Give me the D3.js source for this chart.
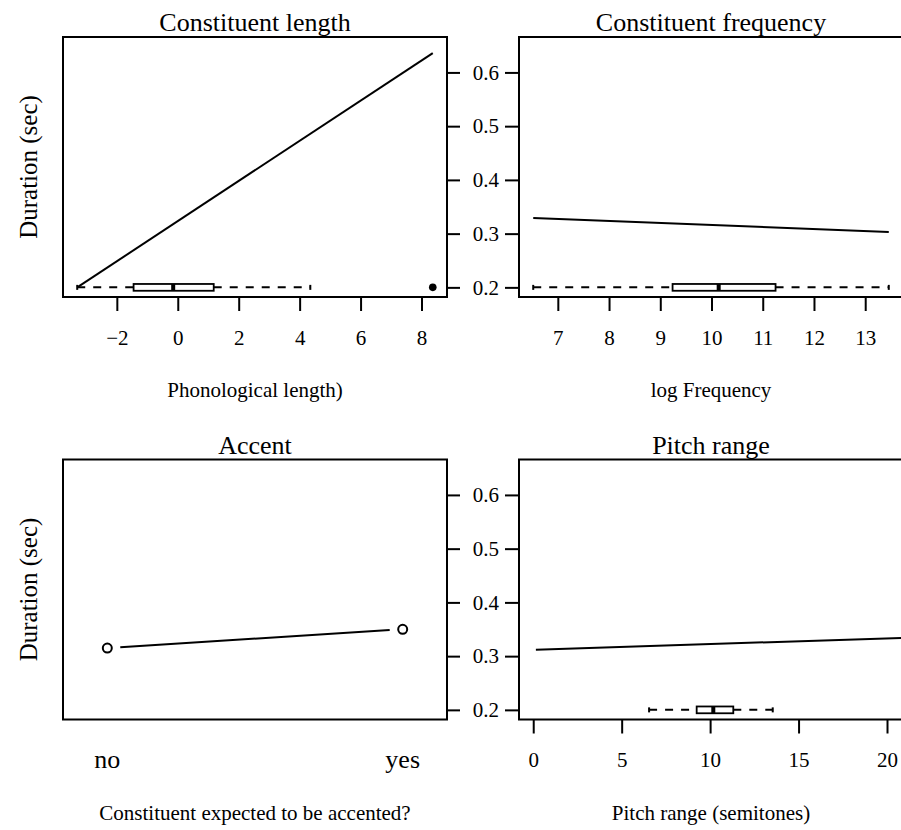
<!DOCTYPE html>
<html>
<head>
<meta charset="utf-8">
<script src="https://cdn.jsdelivr.net/npm/d3@7"></script>
<style>
  body { margin: 0; background: #fff; }
  svg, svg text { font-family: 'Liberation Serif', 'Times New Roman', serif; }
  svg { display: block; }
</style>
</head>
<body>
<div id="chart"></div>
<script>
const width = 901;
const height = 830;

// shared y axis (seconds)
const yLim = [0.2, 0.648];
const yTicks = [0.2, 0.3, 0.4, 0.5, 0.6];
const boxAt = 0.2;

// Constituent length
const lengthLim = [-3.3, 8.37];
const lengthTicks = [-2, 0, 2, 4, 6, 8];
const lengthFitX = [-3.3, 8.37];
const lengthFitY = [0.2, 0.636];
const lengthBox = [-3.3, -1.45, -0.15, 1.18, 4.35];
const lengthOutliers = [8.37];

// Constituent frequency
const freqLim = [6.52, 13.46];
const freqTicks = [7, 8, 9, 10, 11, 12, 13];
const freqFitX = [6.52, 13.46];
const freqFitY = [0.329, 0.303];
const freqBox = [6.52, 9.24, 10.14, 11.25, 13.46];

// Accent
const accentLevels = ['no', 'yes'];
const accentY = [0.315, 0.35];

// Pitch range
const pitchLim = [0, 20.1];
const pitchTicks = [0, 5, 10, 15, 20];
const pitchFitX = [0.15, 20.9];
const pitchFitY = [0.312, 0.334];
const pitchBox = [6.55, 9.24, 10.18, 11.31, 13.54];

// R style 4% axis extension
const ext = ([a, b]) => [a - 0.04 * (b - a), b + 0.04 * (b - a)];

const plotW = 384;
const plotH = 260;
const serif = "'Liberation Serif', 'Times New Roman', serif";

const svg = d3
  .select('#chart')
  .append('svg')
  .attr('width', width)
  .attr('height', height)
  .attr('viewBox', [0, 0, width, height]);

svg.append('rect').attr('width', width).attr('height', height).attr('fill', '#fff');

const panels = [
  {
    title: 'Constituent length', xlab: 'Phonological length)', left: 63, top: 37, col: 0,
    xLim: lengthLim, ticks: lengthTicks, fitX: lengthFitX, fitY: lengthFitY,
    box: lengthBox, outliers: lengthOutliers,
  },
  {
    title: 'Constituent frequency', xlab: 'log Frequency', left: 519, top: 37, col: 1,
    xLim: freqLim, ticks: freqTicks, fitX: freqFitX, fitY: freqFitY,
    box: freqBox, outliers: [],
  },
  {
    title: 'Accent', xlab: 'Constituent expected to be accented?', left: 63, top: 459.5, col: 0,
    factor: true,
  },
  {
    title: 'Pitch range', xlab: 'Pitch range (semitones)', left: 519, top: 459.5, col: 1,
    xLim: pitchLim, ticks: pitchTicks, fitX: pitchFitX, fitY: pitchFitY,
    box: pitchBox, outliers: [],
  },
];

panels.forEach(drawPanel);

function drawPanel(p) {
  const g = svg.append('g').attr('transform', `translate(${p.left},${p.top})`);
  const y = d3.scaleLinear().domain(ext(yLim)).range([plotH, 0]);

  // title
  g.append('text')
    .attr('x', plotW / 2)
    .attr('y', -6)
    .attr('text-anchor', 'middle')
    .attr('font-size', 26)
    .text(p.title);

  // x axis label
  g.append('text')
    .attr('x', plotW / 2)
    .attr('y', plotH + 100)
    .attr('text-anchor', 'middle')
    .attr('font-size', 21)
    .text(p.xlab);

  if (p.col === 0) {
    // y label on the left panels
    g.append('text')
      .attr('transform', `translate(${37 - p.left},${plotH / 2}) rotate(-90)`)
      .attr('text-anchor', 'middle')
      .attr('font-size', 25)
      .text('Duration (sec)');

    // unlabeled ticks on the right side
    const ax = g.append('g')
      .attr('transform', `translate(${plotW},0)`)
      .call(d3.axisRight(y).tickValues(yTicks).tickSize(13).tickFormat(''));
    styleAxis(ax);
  } else {
    const ax = g.append('g')
      .call(d3.axisLeft(y).tickValues(yTicks).tickSize(14).tickPadding(6).tickFormat(d3.format('.1f')));
    styleAxis(ax);
  }

  if (p.factor) {
    const x = d3.scalePoint().domain(accentLevels).range([0, plotW]).padding(0.15);

    g.selectAll('text.level')
      .data(accentLevels)
      .join('text')
      .attr('class', 'level')
      .attr('x', (d) => x(d))
      .attr('y', plotH + 48.5)
      .attr('text-anchor', 'middle')
      .attr('font-size', 26)
      .text((d) => d);

    const pts = accentLevels.map((d, i) => [x(d), y(accentY[i])]);
    // type = "b": line with gaps around the points
    const [a, b] = pts;
    const len = Math.hypot(b[0] - a[0], b[1] - a[1]);
    const ux = (b[0] - a[0]) / len;
    const uy = (b[1] - a[1]) / len;
    const gap = 13;
    g.append('line')
      .attr('x1', a[0] + ux * gap)
      .attr('y1', a[1] + uy * gap)
      .attr('x2', b[0] - ux * gap)
      .attr('y2', b[1] - uy * gap)
      .attr('stroke', '#000')
      .attr('stroke-width', 2);

    g.selectAll('circle.pt')
      .data(pts)
      .join('circle')
      .attr('class', 'pt')
      .attr('cx', (d) => d[0])
      .attr('cy', (d) => d[1])
      .attr('r', 4.5)
      .attr('fill', 'none')
      .attr('stroke', '#000')
      .attr('stroke-width', 2);
  } else {
    const x = d3.scaleLinear().domain(ext(p.xLim)).range([0, plotW]);

    const ax = g.append('g')
      .attr('transform', `translate(0,${plotH})`)
      .call(d3.axisBottom(x).tickValues(p.ticks).tickSize(14).tickPadding(19).tickFormat(d3.format('')));
    styleAxis(ax);

    // fitted line
    g.append('path')
      .datum(p.fitX.map((d, i) => [d, p.fitY[i]]))
      .attr('d', d3.line().x((d) => x(d[0])).y((d) => y(d[1])))
      .attr('fill', 'none')
      .attr('stroke', '#000')
      .attr('stroke-width', 2);

    // horizontal boxplot of the predictor
    const [mn, q1, md, q3, mx] = p.box;
    const by = y(boxAt);
    const bh = 3.4;
    const bp = g.append('g');
    bp.selectAll('line.whisker')
      .data([[mn, q1], [q3, mx]])
      .join('line')
      .attr('class', 'whisker')
      .attr('x1', (d) => x(d[0]))
      .attr('x2', (d) => x(d[1]))
      .attr('y1', by)
      .attr('y2', by)
      .attr('stroke', '#000')
      .attr('stroke-width', 2)
      .attr('stroke-dasharray', '8,8');
    bp.selectAll('line.cap')
      .data([mn, mx])
      .join('line')
      .attr('class', 'cap')
      .attr('x1', (d) => x(d))
      .attr('x2', (d) => x(d))
      .attr('y1', by - 2.5)
      .attr('y2', by + 2.5)
      .attr('stroke', '#000')
      .attr('stroke-width', 2);
    bp.append('rect')
      .attr('x', x(q1))
      .attr('y', by - bh)
      .attr('width', x(q3) - x(q1))
      .attr('height', 2 * bh)
      .attr('fill', '#fff')
      .attr('stroke', '#000')
      .attr('stroke-width', 1.8);
    bp.append('rect')
      .attr('x', x(md) - 2)
      .attr('y', by - bh)
      .attr('width', 4)
      .attr('height', 2 * bh)
      .attr('fill', '#000');
    bp.selectAll('circle.out')
      .data(p.outliers)
      .join('circle')
      .attr('class', 'out')
      .attr('cx', (d) => x(d))
      .attr('cy', by)
      .attr('r', 3.8)
      .attr('fill', '#000');
  }

  // frame
  g.append('rect')
    .attr('width', plotW)
    .attr('height', plotH)
    .attr('fill', 'none')
    .attr('stroke', '#000')
    .attr('stroke-width', 2);
}

function styleAxis(ax) {
  ax.attr('font-family', null).attr('font-size', null);
  ax.select('.domain').remove();
  ax.selectAll('.tick line').attr('stroke', '#000').attr('stroke-width', 2);
  ax.selectAll('.tick text')
    .attr('fill', '#000')
    .style('font-size', '21px')
    .style('font-family', serif);
}
</script>
</body>
</html>
